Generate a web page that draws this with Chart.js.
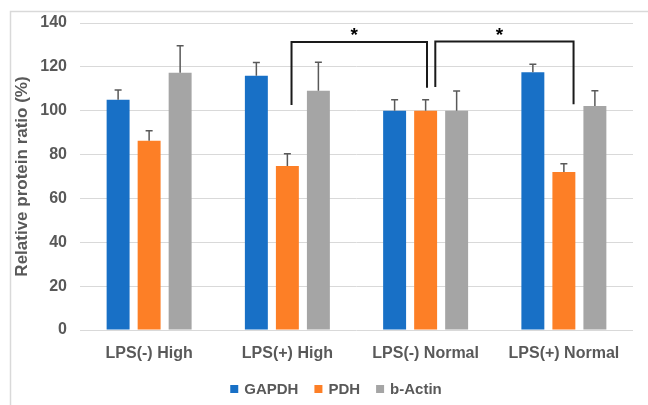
<!DOCTYPE html>
<html>
<head>
<meta charset="utf-8">
<style>
  html, body { margin: 0; padding: 0; background: #ffffff; }
  #wrap { width: 648px; height: 405px; position: relative; }
</style>
<script src="https://cdn.jsdelivr.net/npm/chart.js@4/dist/chart.umd.min.js"></script>
</head>
<body>
<div id="wrap"><canvas id="c" width="648" height="405"></canvas></div>
<script>
// ---- data ----
const categories = ['LPS(-) High', 'LPS(+) High', 'LPS(-) Normal', 'LPS(+) Normal'];
const seriesNames = ['GAPDH', 'PDH', 'b-Actin'];
const gapdh    = [105.0, 116.0, 100.0, 117.5];
const gapdhErr = [4.5, 6.0, 5.0, 3.7];
const pdh      = [86.3, 74.8, 100.0, 72.0];
const pdhErr   = [4.6, 5.6, 5.0, 3.8];
const actin    = [117.3, 109.1, 100.0, 102.1];
const actinErr = [12.3, 13.0, 9.0, 7.0];
const yMin = 0, yMax = 140, yStep = 20;
const yTitle = 'Relative protein ratio (%)';
// significance brackets: category positions and value levels
const bracketFrom  = [1.03, 2.07];
const bracketTo    = [2.01, 3.07];
const bracketTop   = [131.3, 131.6];
const bracketLeftEnd  = [102.6, 110.8];
const bracketRightEnd = [110.5, 102.9];
const bracketMark  = ['*', '*'];

const colors = ['#1870c6', '#fd7f26', '#a5a5a5'];
const textColor = '#595959';
const FONT = '"Liberation Sans", Arial, sans-serif';

const errs = [gapdhErr, pdhErr, actinErr];

const framePlugin = {
  id: 'frame',
  beforeDraw(chart) {
    const ctx = chart.ctx;
    ctx.save();
    ctx.strokeStyle = '#d9d9d9';
    ctx.lineWidth = 1.5;
    ctx.beginPath();
    ctx.moveTo(10.5, 405);
    ctx.lineTo(10.5, 11.5);
    ctx.lineTo(648, 11.5);
    ctx.stroke();
    ctx.restore();
  }
};

const errorBarPlugin = {
  id: 'errorBars',
  afterDatasetsDraw(chart) {
    const ctx = chart.ctx;
    const y = chart.scales.y;
    ctx.save();
    ctx.strokeStyle = '#595959';
    ctx.lineWidth = 1.5;
    chart.data.datasets.forEach((ds, di) => {
      const meta = chart.getDatasetMeta(di);
      meta.data.forEach((bar, i) => {
        const top = y.getPixelForValue(ds.data[i]);
        const end = y.getPixelForValue(ds.data[i] + errs[di][i]);
        ctx.beginPath();
        ctx.moveTo(bar.x, top);
        ctx.lineTo(bar.x, end);
        ctx.moveTo(bar.x - 3.5, end);
        ctx.lineTo(bar.x + 3.5, end);
        ctx.stroke();
      });
    });
    ctx.restore();
  }
};

const bracketPlugin = {
  id: 'brackets',
  afterDraw(chart) {
    const ctx = chart.ctx;
    const xs = chart.scales.x, ys = chart.scales.y;
    ctx.save();
    ctx.strokeStyle = '#1a1a1a';
    ctx.lineWidth = 2;
    ctx.fillStyle = '#000000';
    ctx.font = 'bold 19px ' + FONT;
    ctx.textAlign = 'center';
    ctx.textBaseline = 'middle';
    for (let k = 0; k < bracketFrom.length; k++) {
      const x1 = xs.getPixelForValue(bracketFrom[k]);
      const x2 = xs.getPixelForValue(bracketTo[k]);
      const yt = ys.getPixelForValue(bracketTop[k]);
      const y1 = ys.getPixelForValue(bracketLeftEnd[k]);
      const y2 = ys.getPixelForValue(bracketRightEnd[k]);
      ctx.beginPath();
      ctx.moveTo(x1, y1);
      ctx.lineTo(x1, yt);
      ctx.lineTo(x2, yt);
      ctx.lineTo(x2, y2);
      ctx.stroke();
      ctx.fillText(bracketMark[k], (x1 + x2) / 2 - 5, yt - 6);
    }
    ctx.restore();
  }
};

const legendPlugin = {
  id: 'customLegend',
  afterDraw(chart) {
    const ctx = chart.ctx;
    ctx.save();
    ctx.font = 'bold 15px ' + FONT;
    ctx.textBaseline = 'middle';
    ctx.textAlign = 'left';
    const box = 8, gap = 6, spacing = 16;
    const items = chart.data.datasets.map(d => ({ label: d.label, color: d.backgroundColor, w: ctx.measureText(d.label).width }));
    const total = items.reduce((s, it) => s + box + gap + it.w, 0) + spacing * (items.length - 1);
    let x = 336 - total / 2;
    const cy = 389;
    items.forEach(it => {
      ctx.fillStyle = it.color;
      ctx.fillRect(x, cy - box / 2, box, box);
      ctx.fillStyle = textColor;
      ctx.fillText(it.label, x + box + gap, cy + 1);
      x += box + gap + it.w + spacing;
    });
    ctx.restore();
  }
};

new Chart(document.getElementById('c'), {
  type: 'bar',
  data: {
    labels: categories,
    datasets: [
      { label: seriesNames[0], data: gapdh, backgroundColor: colors[0] },
      { label: seriesNames[1], data: pdh, backgroundColor: colors[1] },
      { label: seriesNames[2], data: actin, backgroundColor: colors[2] }
    ]
  },
  options: {
    responsive: false,
    animation: false,
    devicePixelRatio: 1,
    categoryPercentage: 0.673,
    barPercentage: 0.74,
    layout: { padding: { left: 0, right: 15, top: 23, bottom: 0 } },
    plugins: { legend: { display: false }, tooltip: { enabled: false } },
    scales: {
      x: {
        grid: { display: false },
        border: { display: false },
        ticks: { color: textColor, font: { family: FONT, size: 16, weight: 'bold' }, padding: 6, maxRotation: 0 },
        afterFit(scale) { scale.height = 75; }
      },
      y: {
        min: yMin, max: yMax,
        grid: { color: '#d9d9d9', lineWidth: 1, drawTicks: false },
        border: { display: false },
        ticks: { stepSize: yStep, color: textColor, font: { family: FONT, size: 16, weight: 'bold' }, padding: 13 },
        title: { display: true, text: yTitle, color: textColor, font: { family: FONT, size: 17, weight: 'bold' }, padding: { top: 12, bottom: 0 } },
        afterFit(scale) { scale.width = 80; }
      }
    }
  },
  plugins: [framePlugin, errorBarPlugin, bracketPlugin, legendPlugin]
});
</script>
</body>
</html>
